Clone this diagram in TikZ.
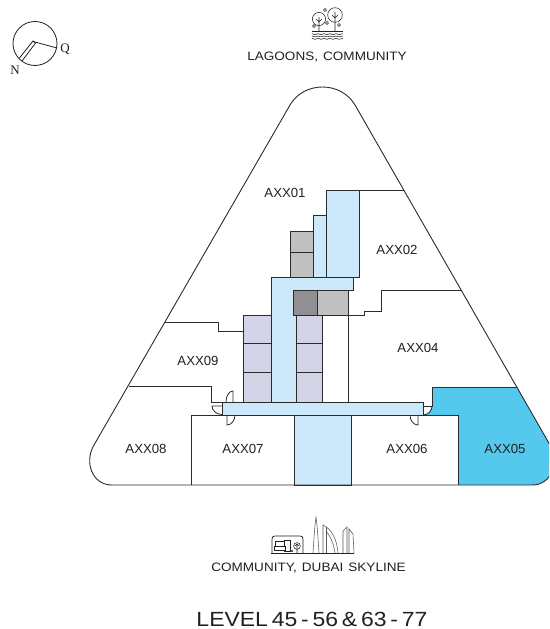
\documentclass[tikz,border=0pt]{standalone}
\usepackage{fontspec}
\setmainfont{Liberation Sans}
\newfontfamily\serifcomp{Liberation Serif}
\newfontfamily\widesans[FakeStretch=1.11,WordSpace=1.35]{Liberation Sans}
\newfontfamily\levelsans[FakeStretch=1.12,WordSpace=0.6]{Liberation Sans}
\definecolor{lightblue}{HTML}{CBE9FB}
\definecolor{cyanunit}{HTML}{55C8EE}
\definecolor{coregray}{HTML}{C0C0C0}
\definecolor{darkcore}{HTML}{918F91}
\definecolor{purplecore}{HTML}{D4D4E8}
\definecolor{ink}{HTML}{231F20}
\definecolor{wallc}{HTML}{2B2B2B}
\tikzset{
  x=1pt,y=-1pt,
  wall/.style={draw=wallc,line width=1pt,line join=miter},
  outline/.style={draw=wallc,line width=.9pt},
  doorl/.style={draw=wallc,line width=.8pt},
  icon/.style={draw=ink,line width=.55pt},
  roomlabel/.style={font=\fontsize{13.2}{15}\selectfont,text=ink,inner sep=0pt},
  viewlabel/.style={font=\widesans\fontsize{12.2}{14}\selectfont,text=ink,inner sep=0pt},
  levellabel/.style={font=\levelsans\fontsize{20.5}{24}\selectfont,text=ink,inner sep=0pt},
  compasslabel/.style={font=\serifcomp\fontsize{13}{15}\selectfont,text=ink,inner sep=0pt},
}
\begin{document}
\begin{tikzpicture}
\useasboundingbox (0,0) rectangle (549,629);
\clip (0,0) rectangle (549,629);
% cyan unit
\fill[cyanunit] (432,387) -- (517,387) -- (550,445) .. controls (560,462) and (552,485) .. (532,485)
  -- (458,485) -- (458,415) -- (423,415) -- (423,406) -- (432,406) -- cycle;
\fill[white] (423,406) -- (432,406) arc[start angle=0,end angle=90,radius=9] -- cycle;
% light blue shafts
\path[wall,fill=lightblue] (326,190) -- (359,190) -- (359,277) -- (326,277) -- cycle;
\path[fill=lightblue] (313,215) rectangle (326,277);
\path[fill=lightblue] (271,277) -- (353,277) -- (353,290) -- (293,290) -- (293,315) -- (271,315) -- cycle;
\path[fill=lightblue] (271,315) rectangle (296,402);
\path[wall,fill=coregray] (290,231) rectangle (313,277);
\draw[wall] (290,252) -- (313,252);
\draw[wall] (326,215) -- (313,215) -- (313,277);
\draw[wall] (326,190) -- (326,277);
\draw[wall] (359,277) -- (271,277) -- (271,402);
\draw[wall] (353,277) -- (353,290) -- (293,290);
% cores
\path[wall,fill=darkcore] (293,290) rectangle (317,315);
\path[wall,fill=coregray] (317,290) rectangle (348,315);
\path[wall,fill=purplecore] (243,315) rectangle (271,402);
\path[wall,fill=purplecore] (296,315) rectangle (322,402);
\draw[wall] (243,343) -- (271,343) (243,372) -- (271,372);
\draw[wall] (296,343) -- (322,343) (296,372) -- (322,372);
% corridor
\path[wall,fill=lightblue] (222,402) rectangle (423,415);
\path[wall,fill=lightblue] (294,415) rectangle (351,485);
% walls
\draw[wall] (359,190) -- (404,190);
\draw[wall] (461,290) -- (381,290) -- (381,311) -- (364,311) -- (364,315) -- (348,315) -- (348,402);
\draw[wall] (165,322) -- (218,322) -- (218,331) -- (243,331);
\draw[wall] (129,386) -- (211,386) -- (211,402) -- (222,402);
\draw[wall] (191,485) -- (191,415) -- (222,415);
\draw[wall] (423,415) -- (458,415) -- (458,485);
\draw[wall] (517,387) -- (432,387) -- (432,406) -- (423,406);
% doors
\draw[doorl] (233,402) -- (233,391) arc[start angle=270,end angle=180,x radius=7,y radius=11];
\draw[doorl] (222,406) -- (212,406) arc[start angle=180,end angle=90,x radius=10,y radius=8.5];
\draw[doorl] (227,415) -- (227,425) arc[start angle=90,end angle=0,x radius=8,y radius=10];
\draw[doorl] (418,415) -- (418,425) arc[start angle=90,end angle=180,x radius=8,y radius=10];
\draw[doorl] (432,406) arc[start angle=0,end angle=90,radius=9];
% outer shell
\draw[outline] (290,105) .. controls (304,81) and (341,81) .. (355,105)
  -- (550,445) .. controls (560,462) and (552,485) .. (532,485)
  -- (112,485) .. controls (92,485) and (84,462) .. (94,445) -- cycle;
% room labels
\node[roomlabel] (a1) at (285,192.5) {AXX01};
\node[roomlabel] (a2) at (397,249.5) {AXX02};
\node[roomlabel] (a4) at (418,347.5) {AXX04};
\node[roomlabel] (a5) at (505,448.5) {AXX05};
\node[roomlabel] (a6) at (407,448.5) {AXX06};
\node[roomlabel] (a7) at (243,448.5) {AXX07};
\node[roomlabel] (a8) at (146,448.5) {AXX08};
\node[roomlabel] (a9) at (198,360.5) {AXX09};
\node[viewlabel] (top) at (327,57) {LAGOONS, COMMUNITY};
\node[viewlabel] (bot) at (308.5,568) {COMMUNITY, DUBAI SKYLINE};
\node[levellabel] (lev) at (312,619) {LEVEL 45 - 56 \& 63 - 77};
% compass
\draw[draw=ink,line width=.8pt] (35,43.5) circle[radius=22];
\draw[draw=ink,line width=.8pt] (33,41.5) -- (57,48);
\draw[draw=ink,line width=.8pt] (19.5,58) -- (33,41) -- (35.5,43) -- (22,61);
\node[compasslabel] (q) at (65,49.5) {Q};
\node[compasslabel] (n) at (15,70) {N};
% lagoon icon
\draw[icon] (319,19) circle[radius=6.6];
\draw[icon] (335,15) circle[radius=7.3];
\draw[icon] (319,31) -- (319,17) (316,19) -- (319,22) -- (322,19);
\draw[icon] (335,31) -- (335,12) (332,15) -- (335,18) -- (338,15);
\draw[icon] (325,10) circle[radius=1.5] (327,23) circle[radius=1.5] (339,25) circle[radius=1.5] (314,26) circle[radius=1.5];
\draw[icon] (312,31) -- (343,31);
\foreach \wy in {33.7,36,38.4}{
  \draw[icon] (312,\wy) .. controls (314,\wy+1.2) and (316,\wy+1.2) .. (318,\wy)
   .. controls (320,\wy+1.2) and (322,\wy+1.2) .. (324,\wy)
   .. controls (326,\wy+1.2) and (328,\wy+1.2) .. (330,\wy)
   .. controls (332,\wy+1.2) and (334,\wy+1.2) .. (336,\wy)
   .. controls (338,\wy+1.2) and (340,\wy+1.2) .. (343,\wy);
}
% skyline icon
\draw[icon] (271,553) -- (354,553);
\draw[icon,line width=.7pt] (272,553) -- (272,539) .. controls (272,537) and (273,536) .. (275,536)
  -- (300,536) .. controls (302,536) and (303,537) .. (303,539) -- (303,553);
\draw[icon,line width=1pt] (275,541) rectangle (284,546);
\draw[icon,line width=1pt] (274,546) rectangle (285,550);
\draw[icon] (284,540) -- (290,540) -- (290,551) -- (284,551);
\draw[icon] (292,551) circle[radius=.8];
\draw[icon] (297,546) circle[radius=3.4];
\draw[icon] (297,553) -- (297,544) (295,546) -- (297,544) -- (299,546);
\draw[icon,draw=ink!75] (313,553) -- (314,538) -- (315,525) -- (316,517) -- (317,525) -- (318,538) -- (319,553);
\draw[icon,draw=ink!75] (323,553) -- (323,525) .. controls (332,529) and (337,540) .. (338,553);
\draw[icon,draw=ink!75] (326,553) -- (326,527);
\draw[icon,draw=ink!75] (335,553) .. controls (334,545) and (331,537) .. (326,531);
\draw[icon,draw=ink!75] (343,553) -- (343,531) -- (347,527) -- (347,553);
\draw[icon,draw=ink!75] (349,553) -- (349,529) -- (353,534) -- (354,553);
\end{tikzpicture}
\end{document}
